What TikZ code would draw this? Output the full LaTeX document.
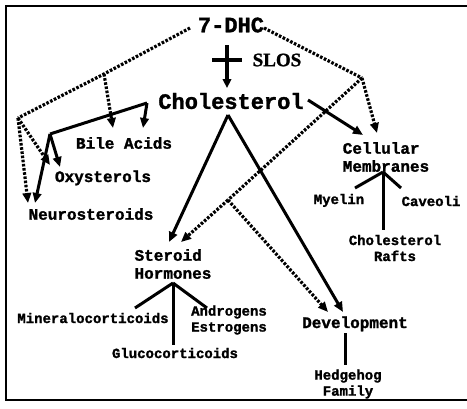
\documentclass[tikz,border=0pt]{standalone}
\usepackage{fontspec}
\setmonofont[BoldFeatures={FakeBold=1.5}]{Liberation Mono}
\newfontfamily\slosfont[BoldFeatures={FakeBold=1.2}]{Liberation Serif}
\usetikzlibrary{arrows.meta}
\begin{document}
\begin{tikzpicture}[x=1pt,y=-1pt,
  big/.style={inner sep=0pt,font=\ttfamily\bfseries\fontsize{22}{24}\selectfont},
  mid/.style={inner sep=0pt,font=\ttfamily\bfseries\fontsize{16}{18}\selectfont},
  small/.style={inner sep=0pt,font=\ttfamily\bfseries\fontsize{14}{16}\selectfont},
  solidline/.style={line width=3pt},
  dotline/.style={line width=3.2pt,dash pattern=on 2.6pt off 1.6pt},
  tip/.style={-{Triangle[length=10pt,width=8.5pt]}},
  frame/.style={line width=1.5pt}]
\useasboundingbox (0,0) rectangle (467,408);
% frame
\coordinate (fa) at (467,6);
\coordinate (fb) at (6,6);
\coordinate (fc) at (6,400);
\coordinate (fd) at (467,400);
\draw[frame] (fa) -- (fb) -- (fc) -- (fd);

% text nodes
\node[big] (dhc) at (231,25) {7-DHC};
\node[inner sep=0pt,font=\slosfont\bfseries\fontsize{19}{21}\selectfont] (slos) at (277,60) {SLOS};
\node[big] (chol) at (231,101) {Cholesterol};
\node[mid] (bile) at (124,143) {Bile Acids};
\node[mid,anchor=base] (oxy) at (103,182) {Oxysterols};
\node[mid] (neuro) at (91,214) {Neurosteroids};
\node[mid,align=left] (cell) at (386,157) {Cellular\\Membranes};
\node[small,anchor=base] (myelin) at (339,204) {Myelin};
\node[small] (caveoli) at (431,201) {Caveoli};
\node[small,align=center] (rafts) at (395,248) {Cholesterol\\Rafts};
\node[mid,align=left] (ster) at (173,264) {Steroid\\Hormones};
\node[small] (mineral) at (93,318) {Mineralocorticoids};
\node[small,align=center] (andro) at (229,320) {Androgens\\Estrogens};
\node[small] (gluco) at (175,353) {Glucocorticoids};
\node[mid,anchor=base] (dev) at (355,328) {Development};
\node[small,align=center] (hedge) at (348,384) {Hedgehog\\Family};

% SLOS block symbol
\coordinate (vtop) at (227,45);
\coordinate (vbot) at (227,88);
\coordinate (hl) at (212,60);
\coordinate (hr) at (242,60);
\draw[line width=4pt,-{Triangle[length=9pt,width=8.5pt]}] (vtop) -- (vbot);
\draw[line width=4pt] (hl) -- (hr);

% junctions and tips
\coordinate (dL0) at (190,28);
\coordinate (dL1) at (104,74);
\coordinate (dL2) at (18,118);
\coordinate (dR0) at (264,28);
\coordinate (dR1) at (362,78);
\coordinate (dX) at (228,200);
\coordinate (sL0) at (147,103);
\coordinate (sL1) at (50,134);
\coordinate (sR0) at (308,100);
\coordinate (apex) at (228,115);

% dotted paths from 7-DHC
\draw[dotline] (dL0) -- (dL1) -- (dL2);
\draw[dotline,tip] (dL1) -- (113,128) coordinate (tbd);
\draw[dotline,tip] (dL2) -- (50,165) coordinate (tod);
\draw[dotline,tip] (dL2) -- (28,203) coordinate (tnd);
\draw[dotline] (dR0) -- (dR1);
\draw[dotline,tip] (dR1) -- (377,133) coordinate (tcd);
\draw[dotline] (dR1) -- (dX);
\draw[dotline,tip] (dX) -- (181,242) coordinate (tsd);
\draw[dotline,tip] (dX) -- (328,312) coordinate (tdd);

% solid paths from Cholesterol
\draw[solidline] (sL0) -- (sL1);
\draw[solidline,tip] (sL0) -- (143,128) coordinate (tbs);
\draw[solidline,tip] (sL1) -- (60,167) coordinate (tos);
\draw[solidline,tip] (sL1) -- (35,203) coordinate (tns);
\draw[solidline,tip] (sR0) -- (363,135) coordinate (tcs);
\draw[solidline,tip] (apex) -- (169,242) coordinate (tss);
\draw[solidline,tip] (apex) -- (343,312) coordinate (tds);

% cellular membranes tree
\coordinate (cj) at (383,172);
\draw[solidline] (cj) -- (355,188) coordinate (cm);
\draw[solidline] (cj) -- (401,188) coordinate (cc);
\draw[solidline] (cj) -- (383,230) coordinate (cr);

% steroid tree
\coordinate (sj) at (173,283);
\draw[solidline] (sj) -- (135,308) coordinate (sm);
\draw[solidline] (sj) -- (207,308) coordinate (sa);
\draw[solidline] (sj) -- (173,345) coordinate (sg);

% development
\coordinate (dj) at (345,333);
\draw[solidline] (dj) -- (345,365) coordinate (dh);
\end{tikzpicture}
\end{document}
